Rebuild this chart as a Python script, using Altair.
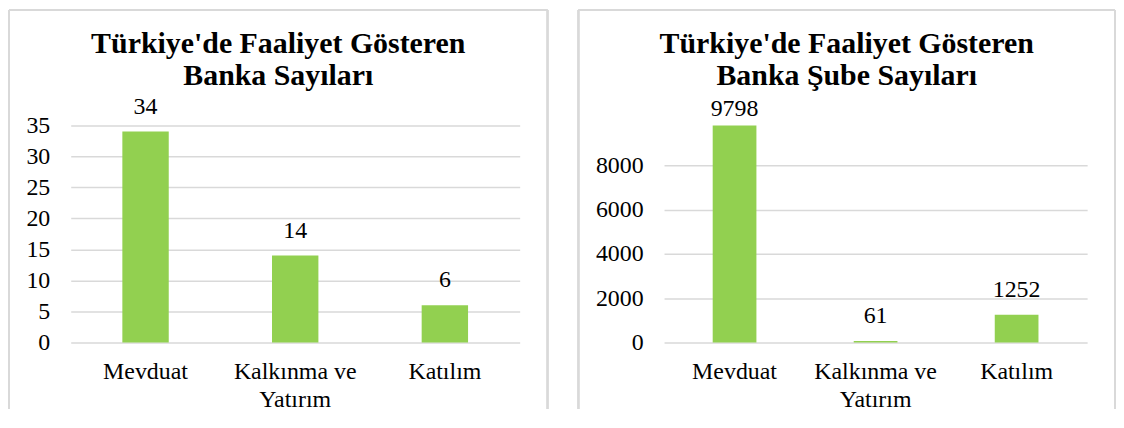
import altair as alt
import pandas as pd

categories = ["Mevduat", "Kalkınma ve Yatırım", "Katılım"]
bank_counts = [34, 14, 6]
branch_counts = [9798, 61, 1252]

title_left = ["Türkiye'de Faaliyet Gösteren", "Banka Sayıları"]
title_right = ["Türkiye'de Faaliyet Gösteren", "Banka Şube Sayıları"]
left_ticks = [0, 5, 10, 15, 20, 25, 30, 35]
right_ticks = [0, 2000, 4000, 6000, 8000]

FONT = "Liberation Serif"
GREEN = "#92D050"
GRID = "#d9d9d9"
FS = 24

df_left = pd.DataFrame({"kategori": categories, "deger": bank_counts})
df_right = pd.DataFrame({"kategori": categories, "deger": branch_counts})

label_expr = "datum.value == 'Kalkınma ve Yatırım' ? ['Kalkınma ve', 'Yatırım'] : datum.value"


def panel(df, title, ticks, domain_max, width, frame_l, frame_r, label_cap):
    x_axis = alt.Axis(
        title=None, labelAngle=0, labelExpr=label_expr, labelPadding=17,
        labelLineHeight=28, domain=False, ticks=False, grid=False,
        labelFont=FONT, labelFontSize=FS, labelColor="black",
    )
    x_scale = alt.Scale(paddingInner=0.69, paddingOuter=0.345)
    y_axis = alt.Axis(
        title=None, values=ticks, format="d", domain=False, ticks=False,
        grid=True, gridColor=GRID, gridWidth=1.5, labelPadding=21,
        labelFont=FONT, labelFontSize=FS, labelColor="black",
        labelBaseline="middle", labelOverlap=False,
    )
    y_scale = alt.Scale(domain=[0, domain_max], nice=False, zero=True)
    bars = alt.Chart(df).mark_bar(color=GREEN).encode(
        x=alt.X("kategori:N", sort=categories, scale=x_scale, axis=x_axis),
        y=alt.Y("deger:Q", scale=y_scale, axis=y_axis),
    )
    labels = alt.Chart(df).transform_calculate(
        ly=f"min(datum.deger, {label_cap})"
    ).mark_text(
        font=FONT, fontSize=FS, color="black", baseline="alphabetic", dy=-18
    ).encode(
        x=alt.X("kategori:N", sort=categories, scale=x_scale, axis=x_axis),
        y=alt.Y("ly:Q", scale=y_scale, axis=y_axis),
        text=alt.Text("deger:Q", format="d"),
    )
    top = -116
    bottom = 285
    frame_left = alt.Chart(df).mark_rule(color=GRID, strokeWidth=2).encode(
        x=alt.value(frame_l), y=alt.value(top), y2=alt.value(bottom)
    )
    frame_right = alt.Chart(df).mark_rule(color=GRID, strokeWidth=2).encode(
        x=alt.value(frame_r), y=alt.value(top), y2=alt.value(bottom)
    )
    frame_top = alt.Chart(df).mark_rule(color=GRID, strokeWidth=2).encode(
        x=alt.value(frame_l), x2=alt.value(frame_r), y=alt.value(top)
    )
    title_mark = alt.Chart(df.head(1)).mark_text(
        font=FONT, fontSize=30, fontWeight="bold", color="black",
        align="center", baseline="alphabetic", lineHeight=32,
    ).encode(
        x=alt.value((frame_l + frame_r) / 2),
        y=alt.value(-73),
        text=alt.value(title),
    )
    return alt.layer(
        frame_left, frame_right, frame_top, bars, labels, title_mark
    ).properties(width=width, height=218)


left = panel(df_left, title_left, left_ticks, 35, 451, -62, 479, 1000)
right = panel(df_right, title_right, right_ticks, 9800, 425, -86, 453, 9400)

chart = (
    alt.hconcat(left, right, spacing=29)
    .properties(padding=0)
    .configure(background="white", font=FONT)
    .configure_view(stroke="transparent", strokeWidth=0)
    .configure_axis(labelFont=FONT, labelFontSize=FS, labelColor="black")
    .configure_text(font=FONT)
)

chart.save("out.html", embed_options={"renderer": "svg", "actions": False})
